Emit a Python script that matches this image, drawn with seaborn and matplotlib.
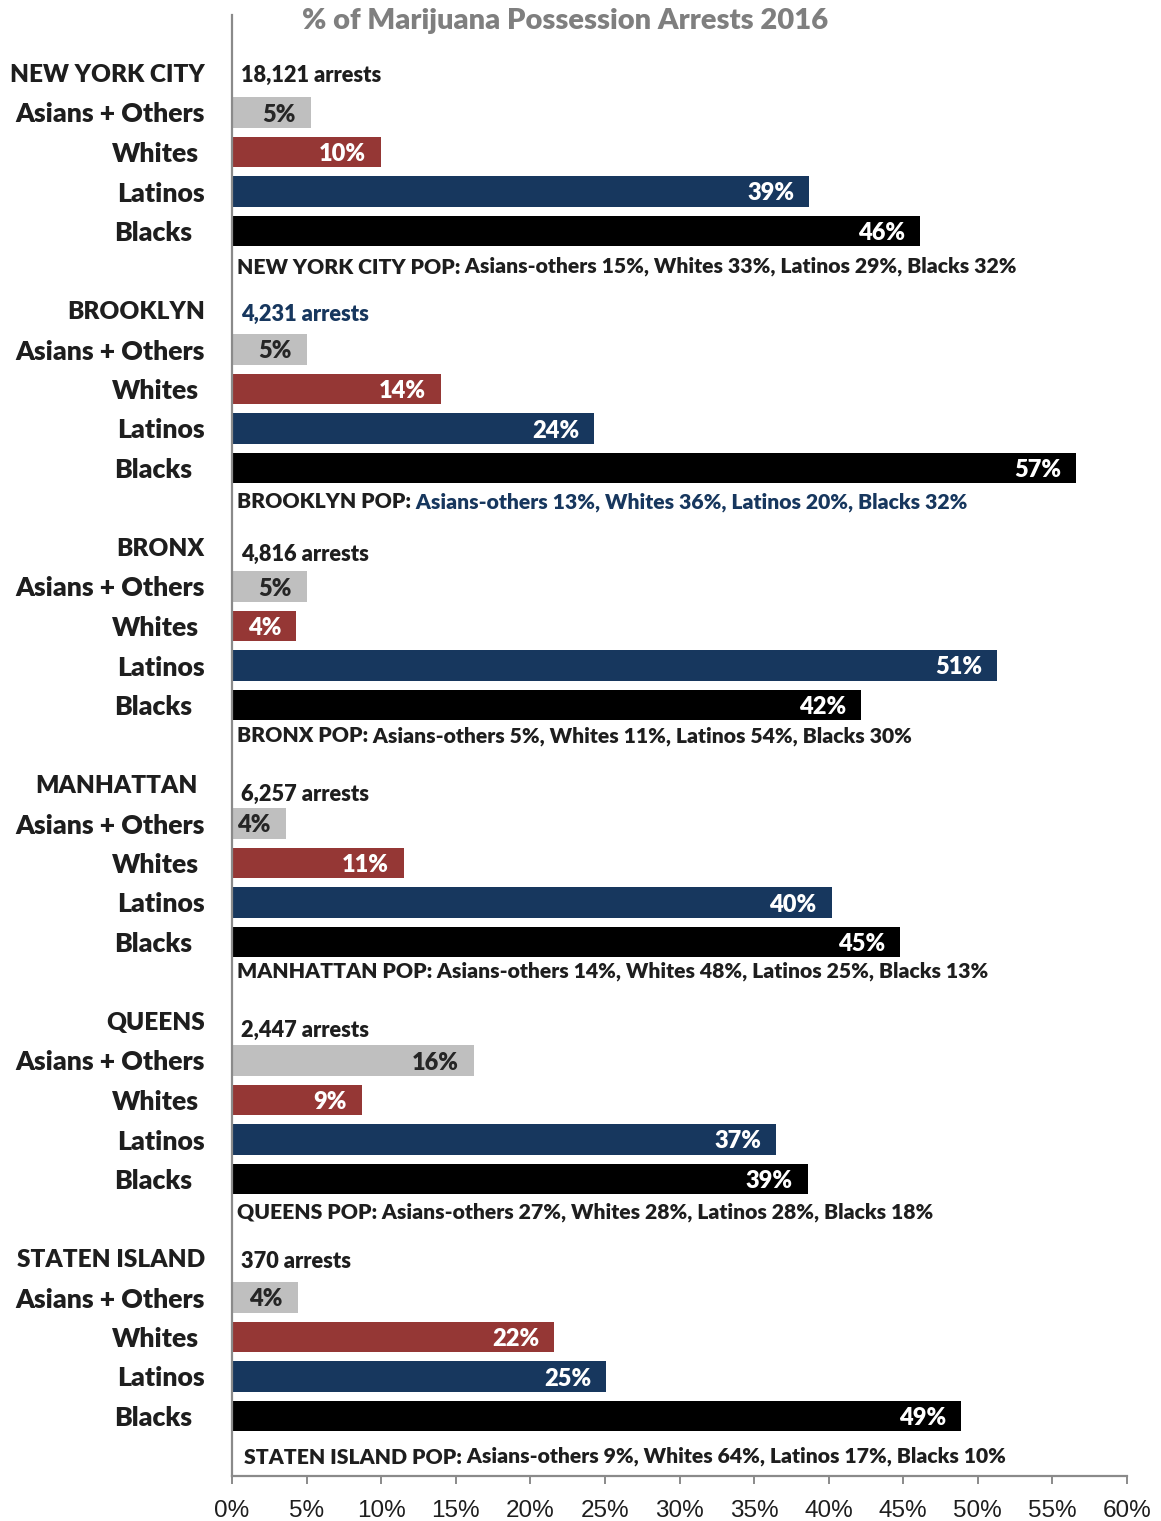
import numpy as np
import pandas as pd
import matplotlib
matplotlib.use("Agg")
import matplotlib.pyplot as plt
import seaborn as sns
from matplotlib import transforms

# ---------------- data ----------------
groups = ["NEW YORK CITY", "BROOKLYN", "BRONX", "MANHATTAN", "QUEENS", "STATEN ISLAND"]
arrests = ["18,121", "4,231", "4,816", "6,257", "2,447", "370"]
races = ["Asians + Others", "Whites", "Latinos", "Blacks"]

# bar lengths (% of arrests), as drawn
asians = [5.3, 5.0, 5.0, 3.6, 16.2, 4.4]
whites = [10.0, 14.0, 4.3, 11.5, 8.7, 21.6]
latinos = [38.7, 24.3, 51.3, 40.2, 36.5, 25.1]
blacks = [46.1, 56.6, 42.2, 44.8, 38.6, 48.9]

# value labels shown on the bars
asians_lbl = [5, 5, 5, 4, 16, 4]
whites_lbl = [10, 14, 4, 11, 9, 22]
latinos_lbl = [39, 24, 51, 40, 37, 25]
blacks_lbl = [46, 57, 42, 45, 39, 49]

# population shares
pop_asians = [15, 13, 5, 14, 27, 9]
pop_whites = [33, 36, 11, 48, 28, 64]
pop_latinos = [29, 20, 54, 25, 28, 17]
pop_blacks = [32, 32, 30, 13, 18, 10]

xticks = [0, 5, 10, 15, 20, 25, 30, 35, 40, 45, 50, 55, 60]

# ---------------- styling ----------------
colors = {"Asians + Others": "#BFBFBF", "Whites": "#953735",
          "Latinos": "#17375E", "Blacks": "#000000"}
lbl_colors = {"Asians + Others": "#262626", "Whites": "white",
              "Latinos": "white", "Blacks": "white"}
TXT = "#1e1e1e"
NAVY = "#17375E"
FONT = "Lato"
WT = "heavy"

sns.set_theme(style="white")
plt.rcParams["font.family"] = [FONT, "DejaVu Sans"]

rows = []
series = [asians, whites, latinos, blacks]
labels = [asians_lbl, whites_lbl, latinos_lbl, blacks_lbl]
for gi, g in enumerate(groups):
    for ri, r in enumerate(races):
        rows.append({"group": g, "race": r, "row": 6 * gi + 1 + ri,
                     "value": series[ri][gi], "label": labels[ri][gi]})
df = pd.DataFrame(rows)

W, H = 1161, 1521
fig = plt.figure(figsize=(W / 100, H / 100), dpi=100)
L, R, T, B = 232, 1127, 15, 1476
ax = fig.add_axes([L / W, 1 - B / H, (R - L) / W, (B - T) / H])

sns.barplot(data=df, x="value", y="row", hue="race", hue_order=races,
            palette=colors, orient="h", native_scale=True, dodge=False,
            width=0.76, errorbar=None, legend=False, saturation=1,
            linewidth=0, ax=ax)

row0_px = 73
step_px = 39.5
ax.set_ylim((B - row0_px) / step_px, (T - row0_px) / step_px)
ax.set_xlim(0, 60)

# spines / ticks
for s in ["top", "right"]:
    ax.spines[s].set_visible(False)
for s in ["left", "bottom"]:
    ax.spines[s].set_color("#8a8a8a")
    ax.spines[s].set_linewidth(1.6)
ax.set_yticks([])
ax.set_ylabel("")
ax.set_xlabel("")
ax.set_xticks(xticks)
ax.set_xticklabels([f"{t}%" for t in xticks], family="Liberation Sans",
                   fontsize=17.5, color=TXT)
ax.tick_params(axis="x", direction="out", length=6, width=1.4,
               color="#8a8a8a", pad=11, bottom=True)

# value labels inside bars
for _, r in df.iterrows():
    ax.annotate(f"{r['label']}%", xy=(r["value"], r["row"]),
                xytext=(-15, 0), textcoords="offset pixels",
                ha="right", va="center_baseline", fontsize=17,
                fontweight=WT, color=lbl_colors[r["race"]])

# row labels on the left
ytr = transforms.blended_transform_factory(fig.transFigure, ax.transData)
race_right = {"Asians + Others": 205, "Whites": 199, "Latinos": 205, "Blacks": 192}
arrest_dy = [0, 2, 5, 8, 7, 2]        # pixel nudges of the arrests line
pop_dy = [-5, -7, -10, -11, -8, 0]    # pixel nudges of the population line
for gi, g in enumerate(groups):
    base = 6 * gi
    ax.text(205 / W if g != "MANHATTAN" else 198 / W, base, g, transform=ytr,
            ha="right", va="center_baseline", fontsize=17.6,
            fontweight=WT, color=TXT)
    for ri, r in enumerate(races):
        ax.text(race_right[r] / W, base + 1 + ri, r, transform=ytr,
                ha="right", va="center_baseline", fontsize=19.2,
                fontweight=WT, color=TXT)
    # arrests
    ax.text(241 / W, base + arrest_dy[gi] / step_px, f"{arrests[gi]} arrests",
            transform=ytr, ha="left", va="center_baseline", fontsize=15.7,
            fontweight=WT, color=NAVY if g == "BROOKLYN" else TXT)
    # population line
    px = 244 if g == "STATEN ISLAND" else 237
    t1 = ax.text(px / W, base + 5 + pop_dy[gi] / step_px, f"{g} POP:",
                 transform=ytr, ha="left", va="center_baseline",
                 fontsize=15.25, fontweight=WT, color=TXT)
    rest = (f" Asians-others {pop_asians[gi]}%, Whites {pop_whites[gi]}%, "
            f"Latinos {pop_latinos[gi]}%, Blacks {pop_blacks[gi]}%")
    ax.annotate(rest, xy=(1, 0), xycoords=t1, ha="left", va="bottom",
                fontsize=15.25, fontweight=WT,
                color=NAVY if g == "BROOKLYN" else TXT)

fig.text(565 / W, 1 - 21 / H, "% of Marijuana Possession Arrests 2016",
         ha="center", va="center", fontsize=21, fontweight=WT,
         color="#7f7f7f")

fig.savefig("out.png", dpi=100)
